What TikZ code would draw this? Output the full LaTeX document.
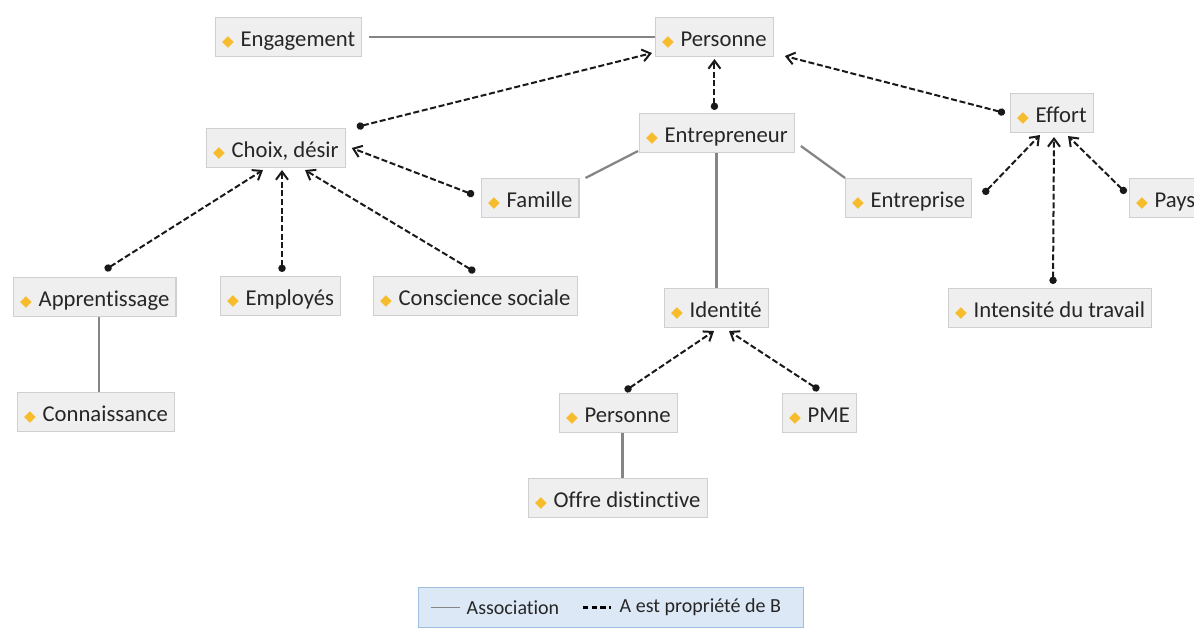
\documentclass[tikz,border=0pt]{standalone}
\usepackage{fontspec}
\setmainfont{Carlito}[Ligatures=NoCommon]
\newfontfamily\symf{DejaVu Sans}
\usetikzlibrary{arrows.meta,positioning}
\definecolor{boxfill}{HTML}{EFEFEF}
\definecolor{boxline}{HTML}{CFCFCF}
\definecolor{bulc}{HTML}{F6BC2C}
\definecolor{assoc}{HTML}{858585}
\definecolor{legfill}{HTML}{DCE8F6}
\definecolor{legline}{HTML}{9FBEDF}
\newcommand\bul{{\symf\fontsize{11.5}{11.5}\selectfont\textcolor{bulc}{◆}}}
\tikzset{
  concept/.style={draw=boxline, fill=boxfill, line width=0.8pt, anchor=west,
    minimum height=29.25pt, inner ysep=0pt, inner xsep=5pt,
    text height=14.8pt, text depth=0.4pt,
    font=\fontsize{17}{20}\selectfont, text=black!85},
  assocline/.style={draw=assoc, line width=1.7pt},
  propline/.style={draw=black!90, line width=1.5pt, dash pattern=on 4.5pt off 2pt,
    {Circle[length=5.5pt,width=5.5pt]}-{Straight Barb[length=6pt,width=9pt,line width=1.5pt]}},
  legtext/.style={anchor=west, font=\fontsize{15}{18}\selectfont, text=black!85},
}
\begin{document}
\begin{tikzpicture}[x=0.75pt,y=-0.75pt]
\useasboundingbox (0,0) rectangle (1194,630);
\clip (0,0) rectangle (1194,630);

% nodes
\node[concept] (eng)   at (215,37)  {\bul\hspace{5pt}Engagement};
\node[concept] (pers1) at (655,37)  {\bul\hspace{5pt}Personne};
\node[concept] (choix) at (206,148) {\bul\hspace{5pt}Choix, désir};
\node[concept] (entre) at (639,133) {\bul\hspace{5pt}Entrepreneur};
\node[concept] (effort) at (1010,113) {\bul\hspace{5pt}Effort};
\node[concept] (fam)   at (481,198) {\bul\hspace{5pt}Famille};
\node[concept] (entp)  at (845,198) {\bul\hspace{5pt}Entreprise};
\node[concept] (pays)  at (1129,198) {\bul\hspace{5pt}Pays};
\node[concept] (appr)  at (13,297)  {\bul\hspace{5pt}Apprentissage};
\node[concept] (empl)  at (220,296) {\bul\hspace{5pt}Employés};
\node[concept] (consc) at (373,296) {\bul\hspace{5pt}Conscience sociale};
\node[concept] (ident) at (664,308) {\bul\hspace{5pt}Identité};
\node[concept] (inten) at (948,308) {\bul\hspace{5pt}Intensité du travail};
\node[concept] (conn)  at (17,412)  {\bul\hspace{5pt}Connaissance};
\node[concept] (pers2) at (559,413) {\bul\hspace{5pt}Personne};
\node[concept] (pme)   at (782,413) {\bul\hspace{5pt}PME};
\node[concept] (offre) at (528,498) {\bul\hspace{5pt}Offre distinctive};

% association lines
\draw[assocline] ([shift={(7,0)}]eng.east) -- (pers1.west);
\draw[assocline] ([shift={(-1,-2)}]entre.south west) -- ([shift={(6,0)}]fam.north east);
\draw[assocline] ([shift={(6,-7)}]entre.south east) -- (entp.north west);
\draw[assocline] (entre.south -| ident.north) -- (ident.north);
\draw[assocline] ([shift={(4,0)}]appr.south) -- ([shift={(4,0)}]appr.south |- conn.north);
\draw[assocline] ([shift={(4,0)}]pers2.south) -- ([shift={(4,0)}]pers2.south |- offre.north);

% property lines (dot at A, arrow at B)
\draw[propline] ([shift={(11,-1)}]choix.north east) -- ([shift={(-3,-4)}]pers1.south west);
\draw[propline] ([shift={(0,-3)}]entre.north -| pers1.south) -- ([shift={(0,2)}]pers1.south);
\draw[propline] ([shift={(-5,0)}]effort.west) -- ([shift={(11,-1)}]pers1.south east);
\draw[propline] ([shift={(-7,-3)}]fam.west) -- ([shift={(6,0)}]choix.east);
\draw[propline] ([shift={(92,-7)}]appr.north west) -- ([shift={(57,2)}]choix.south west);
\draw[propline] ([shift={(62,-4)}]empl.north west) -- ([shift={(76,2)}]choix.south west);
\draw[propline] ([shift={(102,-4)}]consc.north west) -- ([shift={(99,2)}]choix.south west);
\draw[propline] ([shift={(11,-4)}]entp.east) -- ([shift={(30,2)}]effort.south west);
\draw[propline] ([shift={(105,-4)}]inten.north west) -- ([shift={(44,4)}]effort.south west);
\draw[propline] ([shift={(-3,-5)}]pays.west) -- ([shift={(58,3)}]effort.south west);
\draw[propline] ([shift={(66,-2)}]pers2.north west) -- ([shift={(50,3)}]ident.south west);
\draw[propline] ([shift={(37,-3)}]pme.north west) -- ([shift={(65,3)}]ident.south west);

% legend
\node[draw=legline, fill=legfill, line width=0.8pt, minimum width=288.75pt, minimum height=30pt,
      inner sep=0pt, anchor=north west] (legend) at (418,587) {};
\coordinate (la1) at ([shift={(13,0)}]legend.west);
\coordinate (la2) at ([shift={(42,0)}]legend.west);
\coordinate (lb1) at ([shift={(165,0)}]legend.west);
\coordinate (lb2) at ([shift={(193,0)}]legend.west);
\draw[assocline, line width=1.3pt] (la1) -- (la2);
\draw[black, line width=1.6pt, dash pattern=on 4pt off 2.5pt] (lb1) -- (lb2);
\node[legtext] (lta) at ([shift={(2,0)}]la2) {Association};
\node[legtext] (ltb) at ([shift={(4,0)}]lb2) {A est propriété de B};
\end{tikzpicture}
\end{document}
